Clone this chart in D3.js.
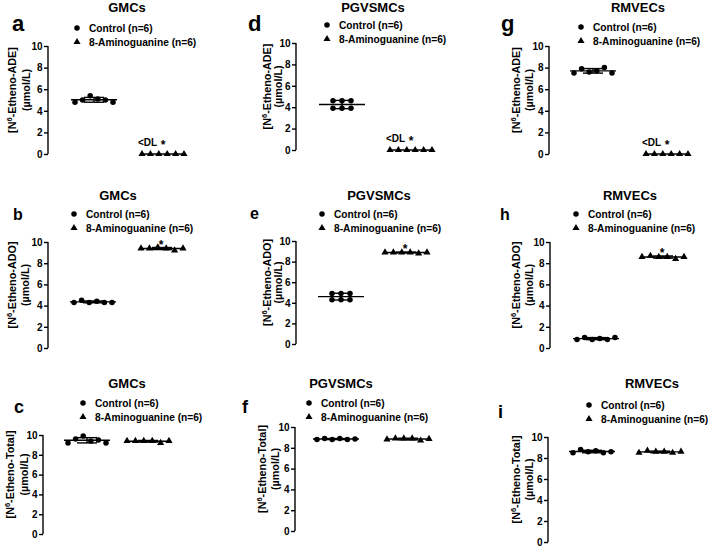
<!DOCTYPE html>
<html><head><meta charset="utf-8">
<script src="https://cdn.jsdelivr.net/npm/d3@7"></script>
<style>
body{margin:0;background:#fff}
svg{display:block;font-family:"Liberation Sans",Arial,sans-serif;font-weight:bold}
</style>
</head><body><svg id="chart" width="708" height="547"></svg>
<script>
// ---------------- DATA ----------------
const groupNames = ["Control (n=6)", "8-Aminoguanine (n=6)"];
const panelLetters = ["a","d","g","b","e","h","c","f","i"];
const cellTypes = ["GMCs","PGVSMCs","RMVECs","GMCs","PGVSMCs","RMVECs","GMCs","PGVSMCs","RMVECs"];
const measures = ["ADE","ADE","ADE","ADO","ADO","ADO","Total","Total","Total"];
const yTicks = [0, 2, 4, 6, 8, 10];
const yDomain = [0, 10];

const ctrl_a = [4.8, 5.0, 5.4, 5.1, 5.0, 4.8];
const agu_a  = [0, 0, 0, 0, 0, 0];
const ctrl_d = [4.6, 3.9, 4.6, 3.9, 4.6, 3.9];
const agu_d  = [0, 0, 0, 0, 0, 0];
const ctrl_g = [7.5, 7.9, 7.6, 7.7, 8.0, 7.5];
const agu_g  = [0, 0, 0, 0, 0, 0];

const ctrl_b = [4.3, 4.5, 4.3, 4.4, 4.3, 4.3];
const agu_b  = [9.4, 9.4, 9.5, 9.4, 9.2, 9.4];
const ctrl_e = [4.9, 4.3, 4.9, 4.3, 4.9, 4.3];
const agu_e  = [8.9, 8.9, 8.9, 8.9, 8.8, 8.9];
const ctrl_h = [0.8, 1.0, 0.8, 0.9, 0.8, 1.0];
const agu_h  = [8.6, 8.7, 8.6, 8.6, 8.4, 8.6];

const ctrl_c = [9.2, 9.6, 9.9, 9.4, 9.5, 9.2];
const agu_c  = [9.4, 9.4, 9.4, 9.4, 9.2, 9.4];
const ctrl_f = [8.8, 8.9, 8.8, 8.9, 8.8, 8.85];
const agu_f  = [8.8, 8.9, 8.9, 8.9, 8.7, 8.85];
const ctrl_i = [8.5, 8.8, 8.6, 8.7, 8.5, 8.6];
const agu_i  = [8.5, 8.7, 8.6, 8.6, 8.5, 8.6];

const controlSeries = [ctrl_a, ctrl_d, ctrl_g, ctrl_b, ctrl_e, ctrl_h, ctrl_c, ctrl_f, ctrl_i];
const aguSeries     = [agu_a, agu_d, agu_g, agu_b, agu_e, agu_h, agu_c, agu_f, agu_i];
const annotations = ["dl","dl","dl","star","star","star","","",""];

// ---------------- LAYOUT ----------------
const layout = [
  {ax:48, yTop:46, yBot:154, c0:94, c1:163, tx:127, ty:12, lx:12, ly:31, lfs:22, gx:77, gy:28, yl1:16,    yl2:30,    slots0:null},
  {ax:296,yTop:43, yBot:150, c0:342,c1:411, tx:373, ty:12, lx:248,ly:31, lfs:22, gx:327,gy:25, yl1:271,   yl2:282,   slots0:[0,0,1,1,2,2]},
  {ax:549,yTop:46, yBot:154, c0:593,c1:667, tx:638, ty:12, lx:501,ly:31, lfs:22, gx:581,gy:27, yl1:520,   yl2:533,   slots0:null},
  {ax:48, yTop:242,yBot:348, c0:93, c1:162, tx:118, ty:200,lx:13, ly:220,lfs:16, gx:74, gy:214,yl1:16,    yl2:29,    slots0:null},
  {ax:296,yTop:241,yBot:344, c0:341,c1:406, tx:379, ty:200,lx:250,ly:219,lfs:16, gx:322,gy:214,yl1:271,   yl2:282,   slots0:[0,0,1,1,2,2]},
  {ax:550,yTop:242,yBot:348, c0:596,c1:663, tx:630, ty:200,lx:500,ly:220,lfs:16, gx:576,gy:214,yl1:520,   yl2:533,   slots0:null},
  {ax:43, yTop:435,yBot:534, c0:87, c1:148, tx:127, ty:388,lx:14, ly:413,lfs:18, gx:83, gy:403,yl1:14,    yl2:28,    slots0:null},
  {ax:295,yTop:427,yBot:531, c0:336,c1:408, tx:341, ty:388,lx:242,ly:413,lfs:18, gx:309,gy:403,yl1:265.5, yl2:279,   slots0:null},
  {ax:548,yTop:437,yBot:542, c0:592,c1:660, tx:652, ty:388,lx:498,ly:418,lfs:18, gx:589,gy:405,yl1:519.5, yl2:533,   slots0:null}
];

const svg = d3.select("#chart");
const triangle = d3.symbol().type(d3.symbolTriangle).size(22);
const circle = d3.symbol().type(d3.symbolCircle).size(24);

panelLetters.forEach((letter, p) => {
  const L = layout[p];
  const g = svg.append("g");
  const y = d3.scaleLinear().domain(yDomain).range([L.yBot, L.yTop]);
  const xg = d3.scaleLinear().domain([0, 1]).range([L.c0, L.c1]);

  g.append("text").attr("x", L.tx).attr("y", L.ty).attr("text-anchor", "middle")
    .attr("font-size", 13).text(cellTypes[p]);
  g.append("text").attr("x", L.lx).attr("y", L.ly).attr("font-size", L.lfs).text(letter);

  const leg = g.append("g");
  [0, 1].forEach(i => {
    const yy = L.gy + i * 14;
    leg.append("path").attr("transform", `translate(${L.gx},${yy})`)
      .attr("d", i === 0 ? circle() : triangle()).attr("fill", "#000");
    leg.append("text").attr("x", L.gx + 12).attr("y", yy + 3.8).attr("font-size", 10.2).text(groupNames[i]);
  });

  const axis = g.append("g").attr("transform", `translate(${L.ax},0)`)
    .call(d3.axisLeft(y).tickValues(yTicks).tickSize(4).tickPadding(1.5).tickFormat(d3.format("d")));
  axis.selectAll("path, line").attr("stroke", "#000").attr("stroke-width", 1.4);
  axis.select(".domain").attr("d", `M-0,${L.yTop}V${L.yBot}`);
  axis.selectAll("text").attr("font-size", 10).attr("font-weight", "bold").attr("fill", "#000")
    .attr("font-family", '"Liberation Sans",Arial,sans-serif');

  const ymid = (L.yTop + L.yBot) / 2 - 10;
  const lab = g.append("text").attr("transform", `translate(${L.yl1},${ymid}) rotate(-90)`)
    .attr("text-anchor", "middle").attr("font-size", 10.8);
  lab.append("tspan").text("[N");
  lab.append("tspan").attr("font-size", 7.5).attr("dy", -4).text("6");
  lab.append("tspan").attr("dy", 4).text(`-Etheno-${measures[p]}]`);
  g.append("text").attr("transform", `translate(${L.yl2},${ymid}) rotate(-90)`)
    .attr("text-anchor", "middle").attr("font-size", 10.8).text("(\u00B5mol/L)");

  [controlSeries[p], aguSeries[p]].forEach((vals, gi) => {
    const cx = xg(gi);
    const slots = (gi === 0 && L.slots0) ? L.slots0 : d3.range(vals.length);
    const nSlots = d3.max(slots) + 1;
    const spread = nSlots === 3 ? 18 : (gi === 0 ? 38 : 42);
    const xs = d3.scalePoint().domain(d3.range(nSlots)).range([cx - spread / 2, cx + spread / 2]);
    const mean = d3.mean(vals), sd = d3.deviation(vals);
    const eg = g.append("g").attr("stroke", "#000").attr("stroke-width", 1.4);
    eg.append("line").attr("x1", cx - 23).attr("x2", cx + 23).attr("y1", y(mean)).attr("y2", y(mean));
    if (sd > 0.02) {
      eg.append("line").attr("x1", cx).attr("x2", cx).attr("y1", y(mean - sd)).attr("y2", y(mean + sd));
      [mean - sd, mean + sd].forEach(v => eg.append("line").attr("x1", cx - 10).attr("x2", cx + 10)
        .attr("y1", y(v)).attr("y2", y(v)));
    }
    g.selectAll(null).data(vals).enter().append("path")
      .attr("transform", (d, i) => `translate(${xs(slots[i])},${y(d)})`)
      .attr("d", gi === 0 ? circle() : triangle()).attr("fill", "#000");
  });

  const cx1 = xg(1);
  if (annotations[p] === "dl") {
    g.append("text").attr("x", cx1 - 25).attr("y", y(0) - 8).attr("font-size", 10).text("<DL");
    g.append("text").attr("x", cx1).attr("y", y(0) - 5).attr("font-size", 12).attr("text-anchor", "middle").text("*");
  } else if (annotations[p] === "star") {
    const m = d3.mean(aguSeries[p]);
    g.append("text").attr("x", cx1 - 1).attr("y", y(m)).attr("font-size", 12).attr("text-anchor", "middle").text("*");
  }
});
</script>
</body></html>
